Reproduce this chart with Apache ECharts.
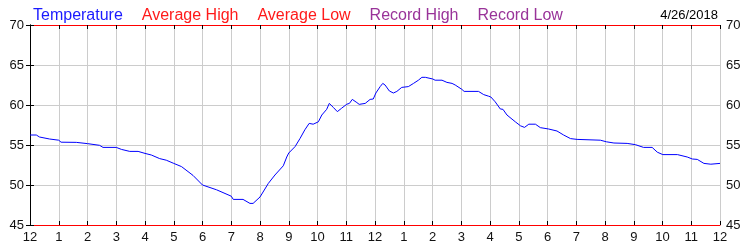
<!DOCTYPE html>
<html>
<head>
<meta charset="utf-8">
<script src="https://cdn.jsdelivr.net/npm/echarts@6/dist/echarts.min.js"></script>
<style>
html,body{margin:0;padding:0;background:#fff;}
#chart{width:750px;height:250px;}
</style>
</head>
<body>
<div id="chart"></div>
<script>
// hours since midnight (0..24) and temperature readings
const hours = [0, 0.22, 0.33, 0.68, 1.0, 1.08, 1.61, 2.0, 2.42, 2.54, 3.0, 3.18, 3.47, 3.76, 4.0, 4.22, 4.51, 4.74, 5.0, 5.27, 5.67, 6.0, 6.49, 7.0, 7.07, 7.41, 7.65, 7.76,
  8.0, 8.29, 8.52, 8.81, 8.93, 9.0, 9.22, 9.39, 9.56, 9.71, 9.85, 10.03, 10.15, 10.32, 10.41, 10.55, 10.69, 10.84, 11.02, 11.11, 11.21, 11.37, 11.45, 11.66, 11.83, 11.94,
  12.03, 12.18, 12.27, 12.35, 12.5, 12.64, 12.76, 12.93, 13.16, 13.34, 13.51, 13.63, 13.75, 14.01, 14.09, 14.33, 14.5, 14.68, 14.79, 15.02, 15.1, 15.6, 15.78, 15.95, 16.03, 16.18, 16.36,
  16.45, 16.59, 16.88, 17.06, 17.2, 17.35, 17.58, 17.75, 18.04, 18.33, 18.56, 18.8, 19.03, 19.84, 20.05, 20.31, 20.77, 21.06, 21.34, 21.64, 21.82, 22.01, 22.52, 22.86, 23.04, 23.21, 23.44, 23.68, 24.0];
const temps = [56.25, 56.25, 56.0, 55.75, 55.6, 55.35, 55.33, 55.17, 54.96, 54.7, 54.7, 54.45, 54.2, 54.2, 53.95, 53.75, 53.3, 53.1, 52.7, 52.3, 51.2, 50.0, 49.4, 48.6, 48.2, 48.2, 47.7, 47.7,
  48.5, 50.2, 51.25, 52.4, 53.5, 54.0, 54.8, 55.8, 56.9, 57.7, 57.6, 57.9, 58.75, 59.46, 60.2, 59.7, 59.17, 59.6, 60.1, 60.2, 60.7, 60.3, 60.08, 60.2, 60.7, 60.75,
  61.5, 62.3, 62.7, 62.5, 61.75, 61.5, 61.7, 62.2, 62.3, 62.7, 63.1, 63.46, 63.46, 63.25, 63.1, 63.1, 62.83, 62.7, 62.5, 61.96, 61.7, 61.7, 61.3, 61.1, 61.0, 60.4, 59.5,
  59.46, 58.75, 57.9, 57.4, 57.2, 57.6, 57.6, 57.17, 57.0, 56.75, 56.25, 55.8, 55.7, 55.6, 55.4, 55.25, 55.2, 55.04, 54.7, 54.7, 54.1, 53.8, 53.8, 53.5, 53.25, 53.2, 52.7, 52.6, 52.7];
const legendNames = ['Temperature', 'Average High', 'Average Low', 'Record High', 'Record Low'];
const legendColors = ['#1a1aff', '#ff1a1a', '#ff1a1a', '#993399', '#993399'];
const dateLabel = '4/26/2018';
const yMin = 45, yMax = 70, yStep = 5;

const font = 'Liberation Sans, Arial, sans-serif';
const chart = echarts.init(document.getElementById('chart'), null, {renderer: 'canvas'});
const hourLabel = v => { const h = Math.round(v) % 12; return h === 0 ? '12' : String(h); };

const yAxisBase = {
  type: 'value', min: yMin, max: yMax, interval: yStep,
  axisLine: {show: true, lineStyle: {color: '#000', width: 1}},
  axisTick: {show: true, inside: true, length: 4, lineStyle: {color: '#000'}},
  axisLabel: {color: '#111', fontSize: 13, fontFamily: font, margin: 6},
  splitLine: {show: true, lineStyle: {color: '#cccccc', width: 1}}
};

chart.setOption({
  animation: false,
  backgroundColor: '#fff',
  title: {text: dateLabel, right: 27, top: 4, textStyle: {fontSize: 13, fontWeight: 'normal', color: '#000', fontFamily: font}},
  legend: {
    left: 23, top: 3, itemWidth: 0, itemHeight: 0, itemGap: 14, icon: 'rect',
    selectedMode: false,
    data: legendNames.map((n, i) => ({name: n, textStyle: {color: legendColors[i], fontSize: 16, fontFamily: font}}))
  },
  grid: {left: 30, right: 30, top: 25, bottom: 25, containLabel: false},
  xAxis: [{
    type: 'value', min: 0, max: 24, interval: 1, position: 'bottom',
    axisLine: {show: true, lineStyle: {color: '#ff0000', width: 1}},
    axisTick: {show: true, inside: true, length: 4, lineStyle: {color: '#000'}},
    axisLabel: {color: '#111', fontSize: 13, fontFamily: font, margin: 6, formatter: hourLabel, showMinLabel: true, showMaxLabel: true},
    splitLine: {show: true, lineStyle: {color: '#cccccc', width: 1}}
  }, {
    type: 'value', min: 0, max: 24, interval: 1, position: 'top',
    axisLine: {show: true, lineStyle: {color: '#ff0000', width: 1}},
    axisTick: {show: true, inside: true, length: 4, lineStyle: {color: '#000'}},
    axisLabel: {show: false},
    splitLine: {show: false}
  }],
  yAxis: [Object.assign({}, yAxisBase, {position: 'left'}),
          Object.assign({}, yAxisBase, {position: 'right', splitLine: {show: false}})],
  series: [{
    name: legendNames[0], type: 'line', xAxisIndex: 0, yAxisIndex: 0,
    data: hours.map((h, i) => [h, temps[i]]),
    showSymbol: false, symbol: 'none',
    lineStyle: {color: '#0000ff', width: 1},
    itemStyle: {color: legendColors[0]}
  }].concat(legendNames.slice(1).map((n, i) => ({
    name: n, type: 'line', data: [], symbol: 'none',
    lineStyle: {color: legendColors[i + 1], width: 1}, itemStyle: {color: legendColors[i + 1]}
  })))
});
</script>
</body>
</html>
